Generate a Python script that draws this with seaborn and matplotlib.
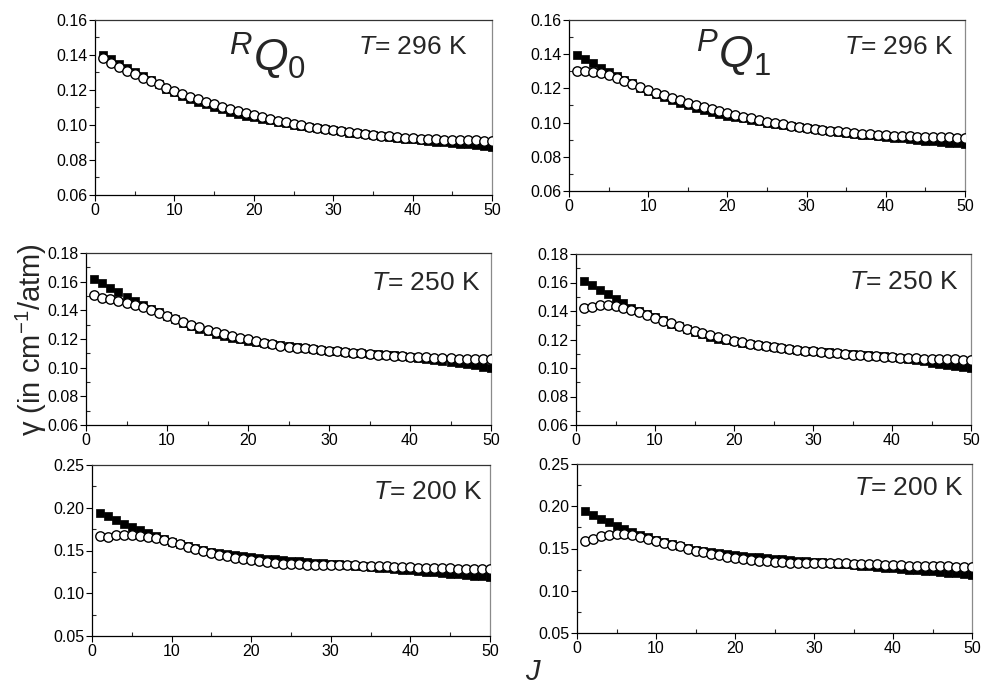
import numpy as np
import pandas as pd
import seaborn as sns
import matplotlib.pyplot as plt
from matplotlib.ticker import MultipleLocator

# J values
J = list(range(1, 51))

# RQ0, T = 296 K
rq0_296_sq = [0.1400,0.1375,0.1350,0.1326,0.1303,0.1280,0.1258,0.1236,0.1208,0.1188,
              0.1168,0.1150,0.1133,0.1118,0.1103,0.1090,0.1077,0.1065,0.1054,0.1043,
              0.1034,0.1026,0.1018,0.1010,0.1002,0.0995,0.0988,0.0981,0.0975,0.0969,
              0.0963,0.0957,0.0952,0.0946,0.0941,0.0936,0.0931,0.0926,0.0922,0.0918,
              0.0913,0.0909,0.0905,0.0901,0.0897,0.0893,0.0889,0.0885,0.0881,0.0877]
rq0_296_ci = [0.1381,0.1356,0.1333,0.1310,0.1290,0.1270,0.1250,0.1233,0.1213,0.1196,
              0.1179,0.1162,0.1147,0.1133,0.1118,0.1105,0.1091,0.1078,0.1067,0.1055,
              0.1044,0.1034,0.1025,0.1015,0.1006,0.0998,0.0990,0.0983,0.0975,0.0970,
              0.0964,0.0958,0.0952,0.0947,0.0943,0.0939,0.0935,0.0931,0.0928,0.0926,
              0.0922,0.0920,0.0918,0.0916,0.0914,0.0914,0.0912,0.0912,0.0910,0.0910]

# PQ1, T = 296 K
pq1_296_sq = [0.1393,0.1370,0.1347,0.1319,0.1296,0.1273,0.1252,0.1230,0.1205,0.1185,
              0.1165,0.1147,0.1130,0.1115,0.1100,0.1087,0.1074,0.1062,0.1051,0.1041,
              0.1032,0.1024,0.1016,0.1008,0.1000,0.0993,0.0986,0.0980,0.0974,0.0968,
              0.0962,0.0956,0.0951,0.0945,0.0940,0.0935,0.0930,0.0925,0.0921,0.0916,
              0.0912,0.0908,0.0903,0.0899,0.0895,0.0891,0.0887,0.0882,0.0878,0.0872]
pq1_296_ci = [0.1302,0.1304,0.1298,0.1290,0.1276,0.1259,0.1241,0.1224,0.1208,0.1191,
              0.1175,0.1159,0.1144,0.1130,0.1117,0.1103,0.1089,0.1078,0.1066,0.1054,
              0.1044,0.1034,0.1025,0.1015,0.1006,0.0998,0.0990,0.0983,0.0976,0.0970,
              0.0964,0.0958,0.0953,0.0948,0.0944,0.0940,0.0936,0.0932,0.0929,0.0926,
              0.0923,0.0921,0.0919,0.0917,0.0916,0.0915,0.0914,0.0913,0.0912,0.0912]

# RQ0, T = 250 K
rq0_250_sq = [0.1618,0.1590,0.1558,0.1527,0.1495,0.1467,0.1434,0.1409,0.1385,0.1362,
              0.1339,0.1315,0.1294,0.1273,0.1255,0.1238,0.1222,0.1208,0.1197,0.1187,
              0.1178,0.1171,0.1164,0.1157,0.1150,0.1143,0.1136,0.1129,0.1122,0.1117,
              0.1113,0.1109,0.1105,0.1101,0.1097,0.1093,0.1089,0.1086,0.1082,0.1075,
              0.1068,0.1060,0.1053,0.1046,0.1038,0.1031,0.1023,0.1016,0.1008,0.1001]
rq0_250_ci = [0.1509,0.1488,0.1478,0.1467,0.1453,0.1439,0.1420,0.1402,0.1381,0.1362,
              0.1341,0.1322,0.1301,0.1283,0.1266,0.1252,0.1236,0.1222,0.1208,0.1197,
              0.1183,0.1171,0.1162,0.1152,0.1145,0.1138,0.1134,0.1127,0.1122,0.1117,
              0.1113,0.1108,0.1103,0.1099,0.1094,0.1089,0.1087,0.1082,0.1080,0.1075,
              0.1073,0.1071,0.1068,0.1066,0.1064,0.1061,0.1061,0.1059,0.1059,0.1057]

# PQ1, T = 250 K
pq1_250_sq = [0.1608,0.1580,0.1547,0.1517,0.1482,0.1454,0.1423,0.1400,0.1378,0.1356,
              0.1335,0.1312,0.1292,0.1272,0.1254,0.1237,0.1221,0.1207,0.1196,0.1186,
              0.1177,0.1170,0.1163,0.1156,0.1149,0.1142,0.1135,0.1129,0.1122,0.1117,
              0.1113,0.1109,0.1105,0.1101,0.1097,0.1093,0.1089,0.1086,0.1082,0.1075,
              0.1068,0.1060,0.1053,0.1046,0.1038,0.1031,0.1023,0.1016,0.1008,0.1001]
pq1_250_ci = [0.1419,0.1426,0.1440,0.1444,0.1435,0.1423,0.1407,0.1393,0.1372,0.1351,
              0.1332,0.1313,0.1295,0.1276,0.1260,0.1243,0.1229,0.1215,0.1201,0.1190,
              0.1179,0.1169,0.1160,0.1151,0.1144,0.1137,0.1132,0.1126,0.1121,0.1116,
              0.1112,0.1107,0.1103,0.1099,0.1094,0.1090,0.1087,0.1083,0.1080,0.1076,
              0.1073,0.1071,0.1068,0.1066,0.1064,0.1062,0.1061,0.1060,0.1059,0.1058]

# RQ0, T = 200 K
rq0_200_sq = [0.1942,0.1900,0.1857,0.1814,0.1771,0.1736,0.1701,0.1666,0.1634,0.1603,
              0.1576,0.1549,0.1525,0.1506,0.1486,0.1471,0.1455,0.1443,0.1432,0.1420,
              0.1412,0.1404,0.1397,0.1389,0.1381,0.1373,0.1365,0.1358,0.1350,0.1342,
              0.1338,0.1330,0.1323,0.1315,0.1307,0.1299,0.1291,0.1284,0.1276,0.1268,
              0.1260,0.1252,0.1245,0.1237,0.1229,0.1221,0.1213,0.1206,0.1198,0.1186]
rq0_200_ci = [0.1673,0.1662,0.1681,0.1685,0.1685,0.1673,0.1658,0.1642,0.1623,0.1600,
              0.1573,0.1545,0.1518,0.1495,0.1471,0.1451,0.1432,0.1412,0.1397,0.1385,
              0.1373,0.1362,0.1354,0.1346,0.1342,0.1338,0.1334,0.1330,0.1330,0.1330,
              0.1330,0.1327,0.1327,0.1323,0.1323,0.1319,0.1315,0.1311,0.1307,0.1303,
              0.1299,0.1295,0.1295,0.1291,0.1291,0.1288,0.1288,0.1284,0.1284,0.1280]

# PQ1, T = 200 K
pq1_200_sq = [0.1939,0.1900,0.1853,0.1814,0.1771,0.1731,0.1696,0.1665,0.1633,0.1602,
              0.1575,0.1548,0.1524,0.1505,0.1485,0.1470,0.1454,0.1442,0.1431,0.1420,
              0.1411,0.1403,0.1396,0.1388,0.1380,0.1372,0.1364,0.1357,0.1349,0.1341,
              0.1336,0.1329,0.1322,0.1314,0.1306,0.1298,0.1290,0.1283,0.1275,0.1267,
              0.1259,0.1251,0.1244,0.1236,0.1228,0.1220,0.1212,0.1205,0.1197,0.1185]
pq1_200_ci = [0.1586,0.1610,0.1645,0.1665,0.1673,0.1669,0.1657,0.1637,0.1618,0.1594,
              0.1571,0.1547,0.1524,0.1500,0.1476,0.1453,0.1433,0.1418,0.1402,0.1386,
              0.1374,0.1363,0.1355,0.1347,0.1342,0.1338,0.1334,0.1331,0.1330,0.1330,
              0.1329,0.1328,0.1327,0.1324,0.1322,0.1319,0.1315,0.1311,0.1307,0.1303,
              0.1299,0.1296,0.1294,0.1292,0.1290,0.1288,0.1287,0.1285,0.1284,0.1282]

temps = ['296', '250', '200']

sns.set_style('ticks')
plt.rcParams['font.family'] = ['Liberation Sans', 'DejaVu Sans']
plt.rcParams['mathtext.fontset'] = 'custom'
plt.rcParams['mathtext.rm'] = 'Liberation Sans'
plt.rcParams['mathtext.it'] = 'Liberation Sans:italic'

W, H = 984, 688
fig = plt.figure(figsize=(W / 100, H / 100), dpi=100)

# panel boxes in pixels: left, top, right, bottom
boxes = [
    [(95, 20, 492, 195), (569, 20, 965, 191)],
    [(86, 253, 491, 425), (576, 254, 971, 425)],
    [(92, 465, 490, 636), (577, 464, 972, 633)],
]
series = [
    [(rq0_296_sq, rq0_296_ci), (pq1_296_sq, pq1_296_ci)],
    [(rq0_250_sq, rq0_250_ci), (pq1_250_sq, pq1_250_ci)],
    [(rq0_200_sq, rq0_200_ci), (pq1_200_sq, pq1_200_ci)],
]
ylims = [(0.06, 0.16, 0.02, 0.01), (0.06, 0.18, 0.02, 0.01), (0.05, 0.25, 0.05, 0.025)]
# T label: right edge x, centre y (pixels)
tpos = [
    [(467, 47), (953, 47)],
    [(480, 283), (958, 282)],
    [(482, 492), (963, 488)],
]

for r in range(3):
    for c in range(2):
        l, t, rr, b = boxes[r][c]
        ax = fig.add_axes([l / W, 1 - b / H, (rr - l) / W, (b - t) / H])
        sq, ci = series[r][c]
        df = pd.DataFrame({'J': J, 'sq': sq, 'ci': ci})
        sns.scatterplot(data=df, x='J', y='sq', ax=ax, marker='s', s=38,
                        color='black', edgecolor='black', linewidth=0.5, zorder=3)
        sns.scatterplot(data=df, x='J', y='ci', ax=ax, marker='o', s=46,
                        facecolor='white', edgecolor='black', linewidth=1.0, zorder=4)
        lo, hi, maj, mn = ylims[r]
        ax.set_xlim(0, 50)
        ax.set_ylim(lo, hi)
        ax.xaxis.set_major_locator(MultipleLocator(10))
        ax.xaxis.set_minor_locator(MultipleLocator(5))
        ax.yaxis.set_major_locator(MultipleLocator(maj))
        ax.yaxis.set_minor_locator(MultipleLocator(mn))
        ax.yaxis.set_major_formatter(plt.FuncFormatter(lambda v, p: f'{v:.2f}'))
        ax.set_xlabel('')
        ax.set_ylabel('')
        ax.tick_params(which='major', direction='out', length=4, width=0.8,
                       labelsize=11.5, pad=1.5, colors='black')
        ax.tick_params(which='minor', direction='in', length=3, width=0.8)
        for side in ['left', 'bottom']:
            ax.spines[side].set_color('black')
            ax.spines[side].set_linewidth(0.9)
        ax.spines['top'].set_color('#333333')
        ax.spines['right'].set_color('#8a8a8a')
        ax.spines['top'].set_linewidth(0.9)
        ax.spines['right'].set_linewidth(0.9)
        tx, ty = tpos[r][c]
        fig.text(tx / W, 1 - ty / H, '$T$= %s K' % temps[r], fontsize=19,
                 ha='right', va='center')

# band labels
fig.text(229 / W, 1 - 56 / H, r'$^{R}Q_{0}$', fontsize=32, ha='left', va='center')
fig.text(696 / W, 1 - 53 / H, r'$^{P}Q_{1}$', fontsize=32, ha='left', va='center')

# axis labels
fig.text(31 / W, 1 - 340 / H, r'$\mathrm{\gamma}$ (in cm$^{-1}$/atm)', fontsize=21,
         rotation=90, ha='center', va='center')
fig.text(533 / W, 1 - 672 / H, '$J$', fontsize=21, ha='center', va='center')

fig.savefig('out.png', dpi=100)
